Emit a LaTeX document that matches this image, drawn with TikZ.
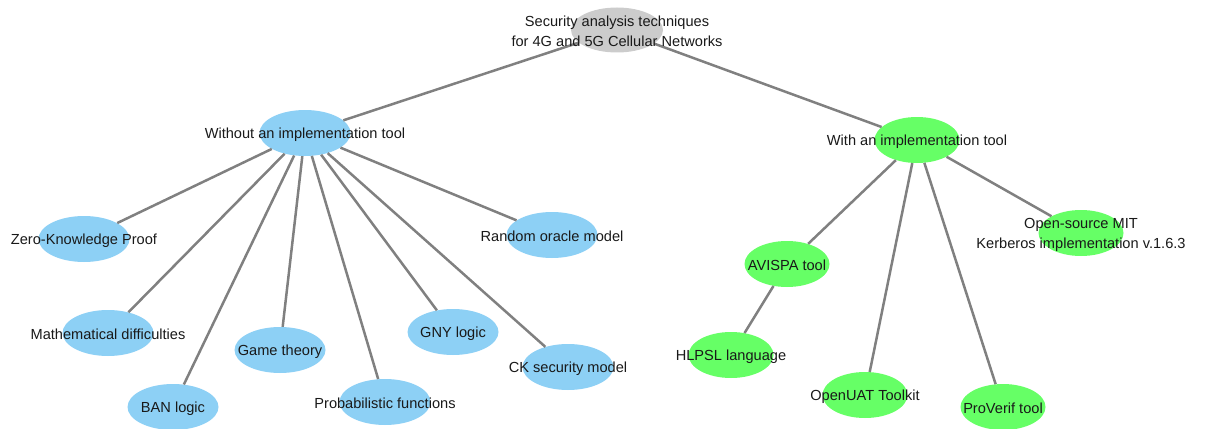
\documentclass[tikz,border=0pt]{standalone}
\usepackage{fontspec}
\setmainfont{Liberation Sans}
\usetikzlibrary{shapes.geometric}
\definecolor{skyb}{RGB}{141,208,245}
\definecolor{lgreen}{RGB}{102,255,102}
\definecolor{rootgray}{RGB}{204,204,204}
\definecolor{edgegray}{RGB}{128,128,128}
\begin{document}
\begin{tikzpicture}[x=1pt,y=-1pt,
  bub/.style={ellipse, minimum width=91pt, minimum height=46pt, inner sep=0pt, draw=none},
  bluebub/.style={bub, fill=skyb},
  greenbub/.style={bub, fill=lgreen, minimum width=85pt},
  rootbub/.style={bub, fill=rootgray, minimum width=92pt, minimum height=45pt},
  lab/.style={font=\fontsize{14.6}{20}\selectfont, align=center, text=black!90, inner sep=0pt, yshift=-1.5pt},
  edge/.style={draw=edgegray, line width=2.5pt}]
\useasboundingbox (0,0) rectangle (1225,428);
% ellipses
\node[rootbub] (root) at (617,30) {};
\node[bluebub] (wo) at (305,133) {};
\node[greenbub] (wi) at (917,140) {};
\node[bluebub] (zkp) at (84,239) {};
\node[bluebub] (math) at (108,333) {};
\node[bluebub] (ban) at (173,407) {};
\node[bluebub] (game) at (280,350) {};
\node[bluebub] (prob) at (385,402) {};
\node[bluebub] (gny) at (453,332) {};
\node[bluebub] (ck) at (568,367) {};
\node[bluebub] (ro) at (552,235) {};
\node[greenbub] (mit) at (1081,233) {};
\node[greenbub] (avispa) at (787,264) {};
\node[greenbub] (hlpsl) at (731,355) {};
\node[greenbub] (uat) at (865,395) {};
\node[greenbub] (pv) at (1003,407) {};
% edges
\draw[edge] (root) -- (wo);
\draw[edge] (root) -- (wi);
\foreach \c in {zkp,math,ban,game,prob,gny,ck,ro} \draw[edge] (wo) -- (\c);
\foreach \c in {mit,avispa,uat,pv} \draw[edge] (wi) -- (\c);
\draw[edge] (avispa) -- (hlpsl);
% texts
\node[lab] (roott) at (root) {Security analysis techniques\\for 4G and 5G Cellular Networks};
\node[lab] (wot) at (wo) {Without an implementation tool};
\node[lab] (wit) at (wi) {With an implementation tool};
\node[lab] (zkpt) at (zkp) {Zero-Knowledge Proof};
\node[lab] (matht) at (math) {Mathematical difficulties};
\node[lab] (bant) at (ban) {BAN logic};
\node[lab] (gamet) at (game) {Game theory};
\node[lab] (probt) at (prob) {Probabilistic functions};
\node[lab] (gnyt) at (gny) {GNY logic};
\node[lab] (ckt) at (ck) {CK security model};
\node[lab] (rot) at (ro) {Random oracle model};
\node[lab] (mitt) at (mit) {Open-source MIT\\Kerberos implementation v.1.6.3};
\node[lab] (avispat) at (avispa) {AVISPA tool};
\node[lab] (hlpslt) at (hlpsl) {HLPSL language};
\node[lab] (uatt) at (uat) {OpenUAT Toolkit};
\node[lab] (pvt) at (pv) {ProVerif tool};
\end{tikzpicture}
\end{document}
